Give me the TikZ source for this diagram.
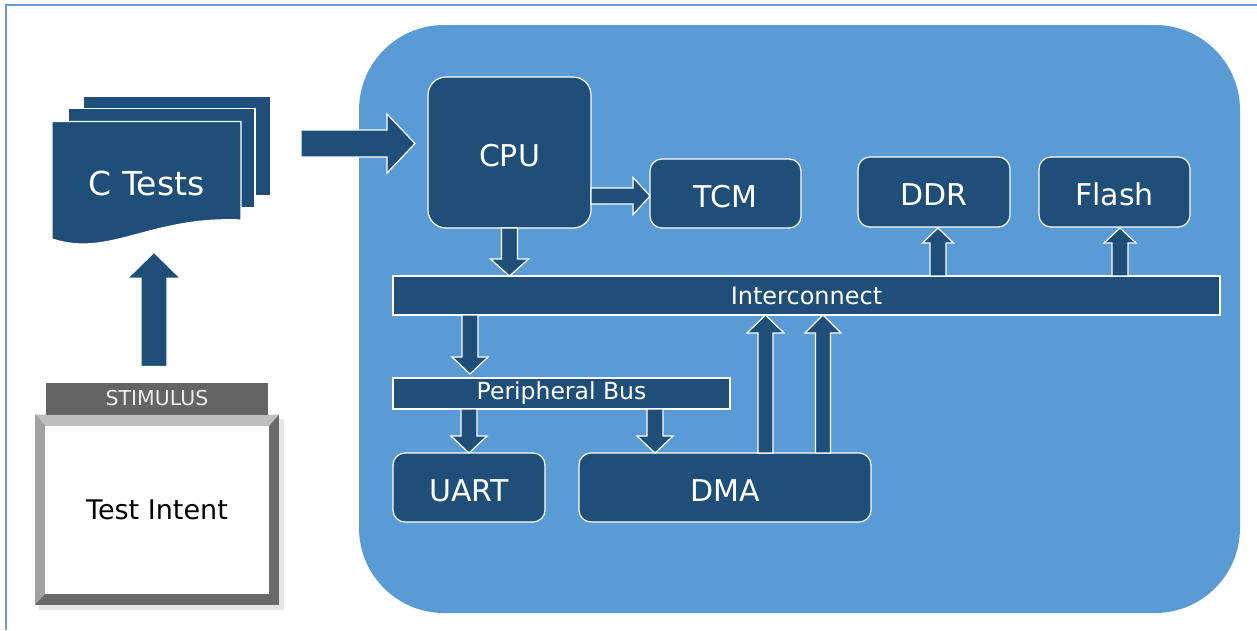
\documentclass[tikz,border=0pt]{standalone}
\usepackage{fontspec}
\setmainfont{DejaVu Sans}
\usetikzlibrary{calc}
\definecolor{dkblue}{HTML}{1F4E79}
\definecolor{ltblue}{HTML}{5B9BD5}
\definecolor{framecol}{HTML}{6A9AD2}
\definecolor{stimgray}{HTML}{646464}
\definecolor{bevlight}{HTML}{BEBEBE}
\definecolor{bevmid}{HTML}{A2A2A2}
\definecolor{bevdark}{HTML}{6A6A6A}

\tikzset{
  blk/.style={draw=white, fill=dkblue, line width=1.2pt, rounded corners=12pt,
    text=white, inner sep=0, outer sep=0, text height=27pt, text depth=0pt,
    font=\fontsize{30}{36}\selectfont},
  bus/.style={draw=white, fill=dkblue, line width=1.2pt, text=white,
    inner sep=0, outer sep=0},
  page/.style={draw=white, fill=dkblue, line width=1.2pt},
  fat/.style n args={3}{draw=white, fill=dkblue, line width=1.2pt, line join=miter,
    to path={let \p1=($(\tikztotarget)!#3pt!(\tikztostart)$) in
      ($(\tikztostart)!#1pt!90:(\tikztotarget)$) -- ($(\p1)!#1pt!90:(\tikztotarget)$)
      -- ($(\p1)!#2pt!90:(\tikztotarget)$) -- (\tikztotarget)
      -- ($(\p1)!#2pt!-90:(\tikztotarget)$) -- ($(\p1)!#1pt!-90:(\tikztotarget)$)
      -- ($(\tikztostart)!#1pt!-90:(\tikztotarget)$) -- cycle}}
}

\begin{document}
\begin{tikzpicture}[x=1pt,y=-1pt]
\useasboundingbox (0,0) rectangle (1257,630);
% frame and soc area
\draw[framecol, line width=1.5pt] (6,630) -- (6,5) -- (1257,5);
\fill[ltblue, rounded corners=85pt] (359,25) rectangle (1240,613);

% test pages
\draw[page] (83,96.5) rectangle (271,195.5);
\draw[page] (68,108.5) rectangle (255,208);
\draw[page] (52,121.5) -- (241,121.5) -- (241,220) .. controls (150,216) and (110,258) .. (52,239) -- cycle;
\node[minimum width=189pt, minimum height=122pt, inner sep=0, outer sep=0, text=white,
  font=\fontsize{33}{40}\selectfont] (ctests) at (146.5,183) {C Tests};

% stimulus / test intent
\fill[black!10] (39,419) rectangle (284,610);
\fill[bevdark] (35,414.5) rectangle (279,604.5);
\fill[bevlight] (35,414.5) -- (279,414.5) -- (269,426) -- (45,426) -- cycle;
\fill[bevmid] (35,414.5) -- (45,426) -- (45,594) -- (35,604.5) -- cycle;
\node[fill=white, minimum width=224pt, minimum height=168pt, inner sep=0, outer sep=0,
  font=\fontsize{27}{32}\selectfont] (intent) at (157,510) {Test Intent};
\node[fill=stimgray, minimum width=222pt, minimum height=32pt, inner sep=0, outer sep=0,
  text=black!8, font=\fontsize{20.5}{24}\selectfont] (stim) at (157,398.5) {STIMULUS};

% soc blocks
\node[blk, rounded corners=18pt, minimum width=163pt, minimum height=151pt] (cpu) at (509.5,152.5) {CPU};
\node[blk, minimum width=151pt, minimum height=69pt] (tcm) at (725.5,193.5) {TCM};
\node[blk, minimum width=152pt, minimum height=70pt] (ddr) at (934,192) {DDR};
\node[blk, minimum width=151pt, minimum height=70pt] (flash) at (1114.5,192) {Flash};
\node[bus, minimum width=827pt, minimum height=39pt, font=\fontsize{24}{28}\selectfont] (ic) at (806.5,295.5) {Interconnect};
\node[bus, minimum width=337pt, minimum height=31pt, font=\fontsize{23.5}{27}\selectfont] (pbus) at (561.5,393.5) {Peripheral Bus};
\node[blk, minimum width=152pt, minimum height=69pt] (uart) at (469,487.5) {UART};
\node[blk, minimum width=292pt, minimum height=69pt] (dma) at (725,487.5) {DMA};

% block arrows
\draw[fat={13}{26.5}{26}] ($(stim.north)+(-3,-16)$) to ($(ctests.south)+(7.5,8.3)$);
\draw[fat={13.5}{29.5}{28}] ($(ctests.east)+(60,-39.5)$) to ($(cpu.west)+(-13,-9)$);
\draw[fat={8}{18.5}{17}] ($(cpu.east |- tcm.west)+(0,2.5)$) to ($(tcm.west)+(0,2.5)$);
\draw[fat={8}{19}{17}] (cpu.south) to (cpu.south |- ic.north);
\draw[fat={8}{15.5}{15}] ($(ddr.south |- ic.north)+(4,0)$) to ($(ddr.south)+(4,1)$);
\draw[fat={8}{16}{15}] ($(flash.south |- ic.north)+(5.5,0)$) to ($(flash.south)+(5.5,1)$);
\draw[fat={8}{18}{17}] ($(ic.south west)+(77,0)$) to ($(pbus.north west)+(77,-4)$);
\draw[fat={8}{18}{17}] (uart.north |- pbus.south) to (uart.north);
\draw[fat={8}{18}{17}] ($(dma.north west |- pbus.south)+(76,0)$) to ($(dma.north west)+(76,0)$);
\draw[fat={7.5}{18.5}{18}] ($(dma.north west)+(186.5,0)$) to ($(dma.north west |- ic.south)+(186.5,0)$);
\draw[fat={7.5}{18}{18}] ($(dma.north west)+(244,0)$) to ($(dma.north west |- ic.south)+(244,0)$);
\end{tikzpicture}
\end{document}
